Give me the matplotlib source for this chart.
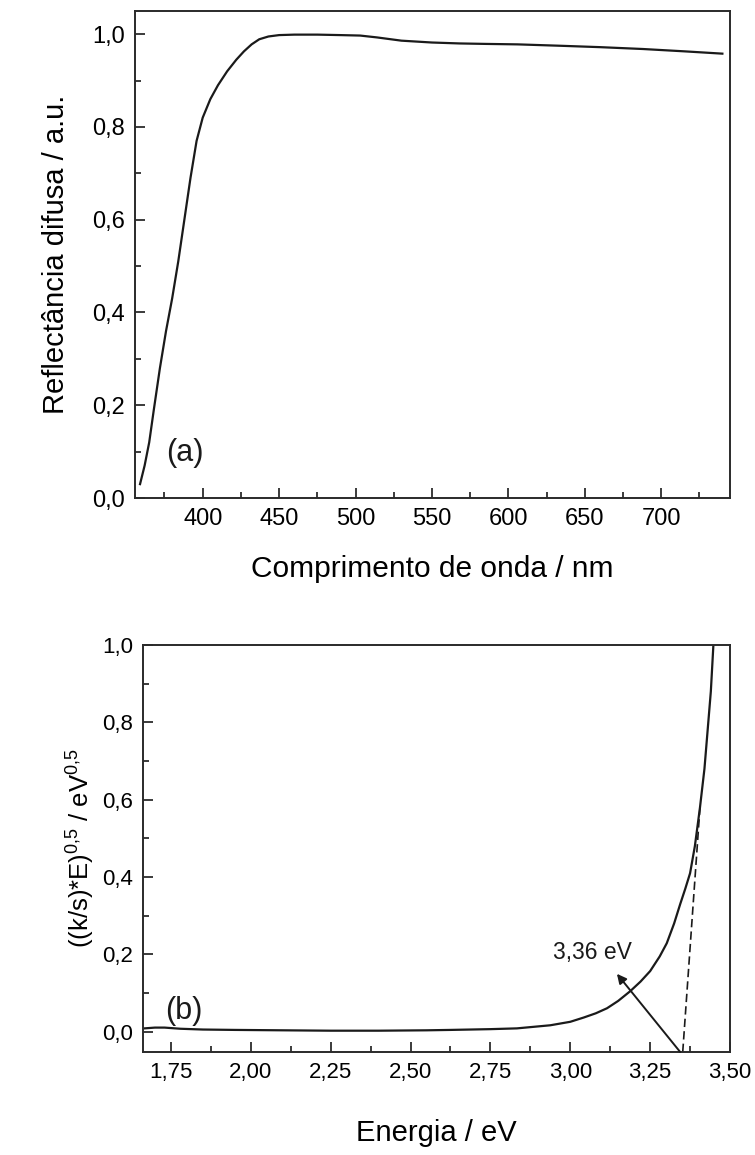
import matplotlib
matplotlib.use('Agg')
import matplotlib.pyplot as plt
from matplotlib.ticker import MultipleLocator, FuncFormatter

plt.rcParams['font.family'] = ['Liberation Sans', 'DejaVu Sans']
plt.rcParams['mathtext.fontset'] = 'custom'
plt.rcParams['mathtext.rm'] = 'Liberation Sans'

# (a) reflectancia difusa
wl = [359, 362, 365, 368, 372, 376, 380, 384, 388, 392, 396, 400, 405, 410,
      416, 422, 427, 432, 437, 443, 450, 460, 475, 490, 503, 514, 530, 550,
      568, 585, 606, 634, 660, 688, 715, 740]
refl = [0.03, 0.07, 0.12, 0.19, 0.28, 0.36, 0.43, 0.51, 0.60, 0.69, 0.77,
        0.82, 0.86, 0.89, 0.92, 0.945, 0.963, 0.978, 0.989, 0.995, 0.998,
        0.999, 0.999, 0.998, 0.997, 0.993, 0.986, 0.982, 0.980, 0.979, 0.978,
        0.975, 0.972, 0.968, 0.963, 0.958]

# (b) Kubelka-Munk
energia = [1.667, 1.70, 1.73, 1.78, 1.85, 1.95, 2.10, 2.25, 2.40, 2.55, 2.625,
           2.75, 2.833, 2.9375, 3.00, 3.042, 3.08, 3.115, 3.15, 3.1875, 3.22,
           3.25, 3.28, 3.302, 3.325, 3.344, 3.36, 3.375, 3.39, 3.406, 3.42,
           3.43, 3.44, 3.448]
km = [0.009, 0.011, 0.011, 0.008, 0.006, 0.005, 0.004, 0.003, 0.003, 0.004,
      0.005, 0.007, 0.009, 0.017, 0.026, 0.037, 0.048, 0.061, 0.08, 0.105,
      0.13, 0.157, 0.195, 0.229, 0.28, 0.33, 0.37, 0.41, 0.48, 0.58, 0.68,
      0.78, 0.88, 1.0]

tangente_E = [3.352, 3.406]
tangente_y = [-0.052, 0.58]
gap = '3,36 eV'

cor = '#1a1a1a'


def virgula(fmt):
    return FuncFormatter(lambda v, p: (fmt % v).replace('.', ','))


def estilo(ax):
    for s in ax.spines.values():
        s.set_linewidth(1.4)
        s.set_color('#2a2a2a')
    ax.tick_params(which='both', direction='in', top=False, right=False,
                   color=cor, width=1.2)
    ax.tick_params(which='major', length=7, pad=7)
    ax.tick_params(which='minor', length=4)


fig = plt.figure(figsize=(7.55, 11.55), dpi=100)

ax1 = fig.add_axes([0.1788, 0.5688, 0.7881, 0.4217])
ax1.plot(wl, refl, color=cor, lw=1.6)
ax1.set_xlim(355.7, 745)
ax1.set_ylim(0, 1.05)
ax1.xaxis.set_minor_locator(MultipleLocator(25))
ax1.yaxis.set_major_locator(MultipleLocator(0.2))
ax1.yaxis.set_minor_locator(MultipleLocator(0.1))
ax1.set_xticks([400, 450, 500, 550, 600, 650, 700])
ax1.yaxis.set_major_formatter(virgula('%.1f'))
estilo(ax1)
ax1.tick_params(labelsize=17)
ax1.set_xlabel('Comprimento de onda / nm', fontsize=21.5)
ax1.set_ylabel('Reflectância difusa / a.u.', fontsize=21)
ax1.xaxis.set_label_coords(0.5, -0.117)
ax1.yaxis.set_label_coords(-0.11, 0.5)
ax1.text(388.4, 0.097, '(a)', fontsize=22, ha='center', va='center', color=cor)

ax2 = fig.add_axes([0.1894, 0.0892, 0.7775, 0.3524])
ax2.plot(energia, km, color=cor, lw=1.6)
ax2.plot(tangente_E, tangente_y, color=cor, lw=1.2, dashes=(5, 2.5))
ax2.set_xlim(1.6625, 3.5)
ax2.set_ylim(-0.052, 1.0)
ax2.xaxis.set_major_locator(MultipleLocator(0.25))
ax2.xaxis.set_minor_locator(MultipleLocator(0.125))
ax2.yaxis.set_major_locator(MultipleLocator(0.2))
ax2.yaxis.set_minor_locator(MultipleLocator(0.1))
ax2.xaxis.set_major_formatter(virgula('%.2f'))
ax2.yaxis.set_major_formatter(virgula('%.1f'))
estilo(ax2)
ax2.tick_params(labelsize=16)
ax2.set_xlabel('Energia / eV', fontsize=21)
ax2.set_ylabel(r'((k/s)*E)$^{0{,}5}$ / eV$^{0{,}5}$', fontsize=18.5)
ax2.xaxis.set_label_coords(0.5, -0.165)
ax2.yaxis.set_label_coords(-0.08, 0.5)
ax2.annotate('', xy=(3.146, 0.15), xytext=(3.344, -0.052),
             arrowprops=dict(arrowstyle='-|>', color=cor, lw=1.4,
                             mutation_scale=14, shrinkA=0, shrinkB=0))
ax2.text(3.068, 0.205, gap, fontsize=16.5, ha='center', va='center', color=cor)
ax2.text(1.79, 0.055, '(b)', fontsize=22, ha='center', va='center', color=cor)

fig.savefig('out.png', dpi=100, facecolor='white')
